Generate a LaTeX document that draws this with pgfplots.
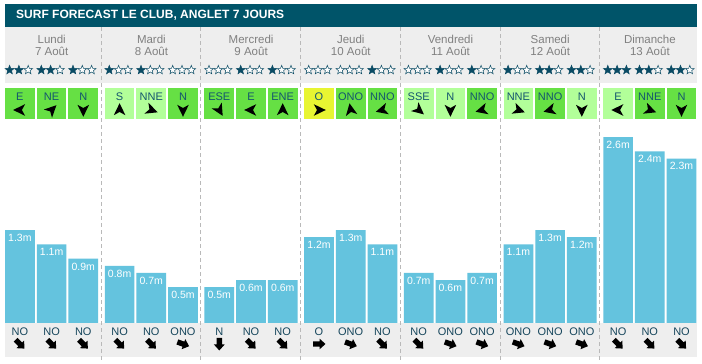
\documentclass[border=0pt]{standalone}
\usepackage{pgfplots}
\pgfplotsset{compat=1.18}
\usepackage{pgfplotstable}
\usepackage{fontspec}
\setmainfont{Liberation Sans}

\definecolor{titlebg}{RGB}{0,84,105}
\definecolor{panel}{RGB}{238,238,238}
\definecolor{barc}{RGB}{100,195,222}
\definecolor{wbright}{RGB}{102,224,68}
\definecolor{wlight}{RGB}{178,255,153}
\definecolor{wyellow}{RGB}{232,245,50}
\definecolor{windtxt}{RGB}{20,85,110}
\definecolor{swelltxt}{RGB}{22,70,92}
\definecolor{daytxt}{RGB}{128,128,128}
\definecolor{starc}{RGB}{10,75,100}
\definecolor{sepc}{RGB}{185,185,185}

\newcommand\PY[1]{(323-#1)/71.5}

\pgfdeclareplotmark{windbox}{\pgfpathrectangle{\pgfqpoint{-14.85pt}{-15.5pt}}{\pgfqpoint{29.7pt}{31pt}}\pgfusepathqfill}
\pgfdeclareplotmark{dart}{%
 \pgfpathmoveto{\pgfqpoint{6.8pt}{0pt}}%
 \pgfpathlineto{\pgfqpoint{-5.2pt}{5.8pt}}%
 \pgfpathlineto{\pgfqpoint{-2pt}{0pt}}%
 \pgfpathlineto{\pgfqpoint{-5.2pt}{-5.8pt}}%
 \pgfpathclose\pgfusepathqfill}
\pgfdeclareplotmark{barrow}{%
 \pgfpathmoveto{\pgfqpoint{6.5pt}{0pt}}%
 \pgfpathlineto{\pgfqpoint{0.5pt}{5.4pt}}%
 \pgfpathlineto{\pgfqpoint{0.5pt}{2.7pt}}%
 \pgfpathlineto{\pgfqpoint{-6pt}{2.7pt}}%
 \pgfpathlineto{\pgfqpoint{-6pt}{-2.7pt}}%
 \pgfpathlineto{\pgfqpoint{0.5pt}{-2.7pt}}%
 \pgfpathlineto{\pgfqpoint{0.5pt}{-5.4pt}}%
 \pgfpathclose\pgfusepathqfill}
\pgfdeclareplotmark{star5}{%
 \pgfpathmoveto{\pgfpointpolar{90}{4.7pt}}%
 \pgfpathlineto{\pgfpointpolar{126}{2pt}}%
 \pgfpathlineto{\pgfpointpolar{162}{4.7pt}}%
 \pgfpathlineto{\pgfpointpolar{198}{2pt}}%
 \pgfpathlineto{\pgfpointpolar{234}{4.7pt}}%
 \pgfpathlineto{\pgfpointpolar{270}{2pt}}%
 \pgfpathlineto{\pgfpointpolar{306}{4.7pt}}%
 \pgfpathlineto{\pgfpointpolar{342}{2pt}}%
 \pgfpathlineto{\pgfpointpolar{18}{4.7pt}}%
 \pgfpathlineto{\pgfpointpolar{54}{2pt}}%
 \pgfpathclose\pgfusepathqfillstroke}

% x = slot centre (px), h = swell height (m), s1-s3 = stars (f filled, e empty)
% wl = wind label, wc = wind box colour class, wa = wind arrow angle
% sl = swell direction label, sa = swell arrow angle
\pgfplotstableread{
x     h   s1 s2 s3 wl  wc wa  sl  sa
19.9  1.3 f  f  e  E   b  180 NO  315
51.6  1.1 f  f  e  NE  b  45  NO  315
83.3  0.9 f  e  e  N   b  270 NO  315
119.6 0.8 f  e  e  S   l  90  NO  315
151.3 0.7 f  e  e  NNE l  340 NO  315
183.0 0.5 e  e  e  N   b  270 ONO 340
219.3 0.5 e  e  e  ESE b  300 N   270
251.0 0.6 f  e  e  E   b  180 NO  315
282.7 0.6 f  e  e  ENE b  90  NO  315
319.0 1.2 e  e  e  O   y  0   O   0
350.7 1.3 e  e  e  ONO b  100 ONO 340
382.4 1.1 f  e  e  NNO b  195 NO  315
418.7 0.7 e  e  e  SSE l  320 NO  315
450.4 0.6 f  e  e  N   l  270 ONO 340
482.1 0.7 f  e  e  NNO b  195 ONO 340
518.4 1.1 f  e  e  NNE l  340 ONO 340
550.1 1.3 f  f  e  NNO b  195 ONO 340
581.8 1.2 f  f  e  N   l  270 ONO 340
618.1 2.6 f  f  f  E   l  180 NO  315
649.8 2.4 f  f  e  NNE b  340 NO  315
681.5 2.3 f  f  e  N   b  270 NO  315
}\data

\begin{document}
\begin{tikzpicture}
\begin{axis}[
  width=702pt, height=363pt, scale only axis,
  xmin=0, xmax=702, ymin=-0.559441, ymax=4.517483,
  hide axis, clip=false,
  /pgf/number format/assume math mode=true,
]
% backgrounds
\fill[white] (axis cs:0,-0.559441) rectangle (axis cs:702,4.517483);
\fill[titlebg] (axis cs:5,{\PY{4}}) rectangle (axis cs:697,{\PY{27.3}});
\fill[panel] (axis cs:5,{\PY{27.3}}) rectangle (axis cs:697,{\PY{82.7}});
\fill[panel] (axis cs:5,{\PY{323}}) rectangle (axis cs:697,{\PY{357}});
\pgfplotsinvokeforeach{101.2,200.7,300.4,400.2,500.1,599.7}{
  \draw[sepc, line width=0.8pt, dash pattern=on 4pt off 3pt] (axis cs:#1,{\PY{27.3}}) -- (axis cs:#1,{\PY{363}});
}
% title
\node[anchor=west, text=white, font=\bfseries\fontsize{12}{14}\selectfont, inner sep=0pt] at (axis cs:16,{\PY{15.5}}) {SURF FORECAST LE CLUB, ANGLET 7 JOURS};
% day headers
\begin{scope}[every node/.style={text=daytxt, font=\fontsize{11.5}{13}\selectfont, inner sep=0pt}]
\node at (axis cs:51.7,{\PY{39}}) {Lundi};    \node at (axis cs:51.7,{\PY{51.5}}) {7 Août};
\node at (axis cs:151.4,{\PY{39}}) {Mardi};   \node at (axis cs:151.4,{\PY{51.5}}) {8 Août};
\node at (axis cs:251.1,{\PY{39}}) {Mercredi};\node at (axis cs:251.1,{\PY{51.5}}) {9 Août};
\node at (axis cs:350.8,{\PY{39}}) {Jeudi};   \node at (axis cs:350.8,{\PY{51.5}}) {10 Août};
\node at (axis cs:450.5,{\PY{39}}) {Vendredi};\node at (axis cs:450.5,{\PY{51.5}}) {11 Août};
\node at (axis cs:550.2,{\PY{39}}) {Samedi};  \node at (axis cs:550.2,{\PY{51.5}}) {12 Août};
\node at (axis cs:649.9,{\PY{39}}) {Dimanche};\node at (axis cs:649.9,{\PY{51.5}}) {13 Août};
\end{scope}
% stars
\pgfplotsset{starstyle/.style={scatter, only marks, scatter src=explicit symbolic,
  scatter/classes={f={mark=star5, draw=starc, fill=starc, line width=0.5pt},
                   e={mark=star5, draw=starc, fill=white, line width=0.5pt}}}}
\addplot[starstyle] table[x expr=\thisrow{x}-10.3, y expr={\PY{70}}, meta=s1] {\data};
\addplot[starstyle] table[x expr=\thisrow{x}-1.0, y expr={\PY{70}}, meta=s2] {\data};
\addplot[starstyle] table[x expr=\thisrow{x}+8.3, y expr={\PY{70}}, meta=s3] {\data};
% wind boxes
\addplot[scatter, only marks, scatter src=explicit symbolic,
  scatter/classes={b={mark=windbox, fill=wbright, draw=none},
                   l={mark=windbox, fill=wlight, draw=none},
                   y={mark=windbox, fill=wyellow, draw=none}}]
  table[x=x, y expr={\PY{103.5}}, meta=wc] {\data};
\addplot[draw=none, mark=none, point meta=explicit symbolic, nodes near coords,
  every node near coord/.append style={anchor=center, text=windtxt, font=\fontsize{11}{12}\selectfont, inner sep=0pt}]
  table[x=x, y expr={\PY{97}}, meta=wl] {\data};
\addplot[only marks, mark=dart, black, scatter, point meta=\thisrow{wa},
  visualization depends on={\thisrow{wa}\as\wang},
  scatter/@pre marker code/.code={\scope[rotate=\wang]},
  scatter/@post marker code/.code={\endscope}]
  table[x=x, y expr={\PY{110}}] {\data};
% swell bars
\addplot[ybar, bar width=29.7, fill=barc, draw=none,
  nodes near coords={\pgfmathprintnumber[fixed,fixed zerofill,precision=1,assume math mode=true]{\pgfplotspointmeta}m},
  every node near coord/.append style={anchor=north, yshift=-0.5pt, text=white, font=\fontsize{10.5}{12}\selectfont}]
  table[x=x, y=h] {\data};
% swell direction
\addplot[draw=none, mark=none, point meta=explicit symbolic, nodes near coords,
  every node near coord/.append style={anchor=center, text=swelltxt, font=\fontsize{11}{12}\selectfont, inner sep=0pt}]
  table[x=x, y expr={\PY{331.5}}, meta=sl] {\data};
\addplot[only marks, mark=barrow, black, scatter, point meta=\thisrow{sa},
  visualization depends on={\thisrow{sa}\as\sang},
  scatter/@pre marker code/.code={\scope[rotate=\sang]},
  scatter/@post marker code/.code={\endscope}]
  table[x=x, y expr={\PY{344}}] {\data};
\end{axis}
\end{tikzpicture}
\end{document}
